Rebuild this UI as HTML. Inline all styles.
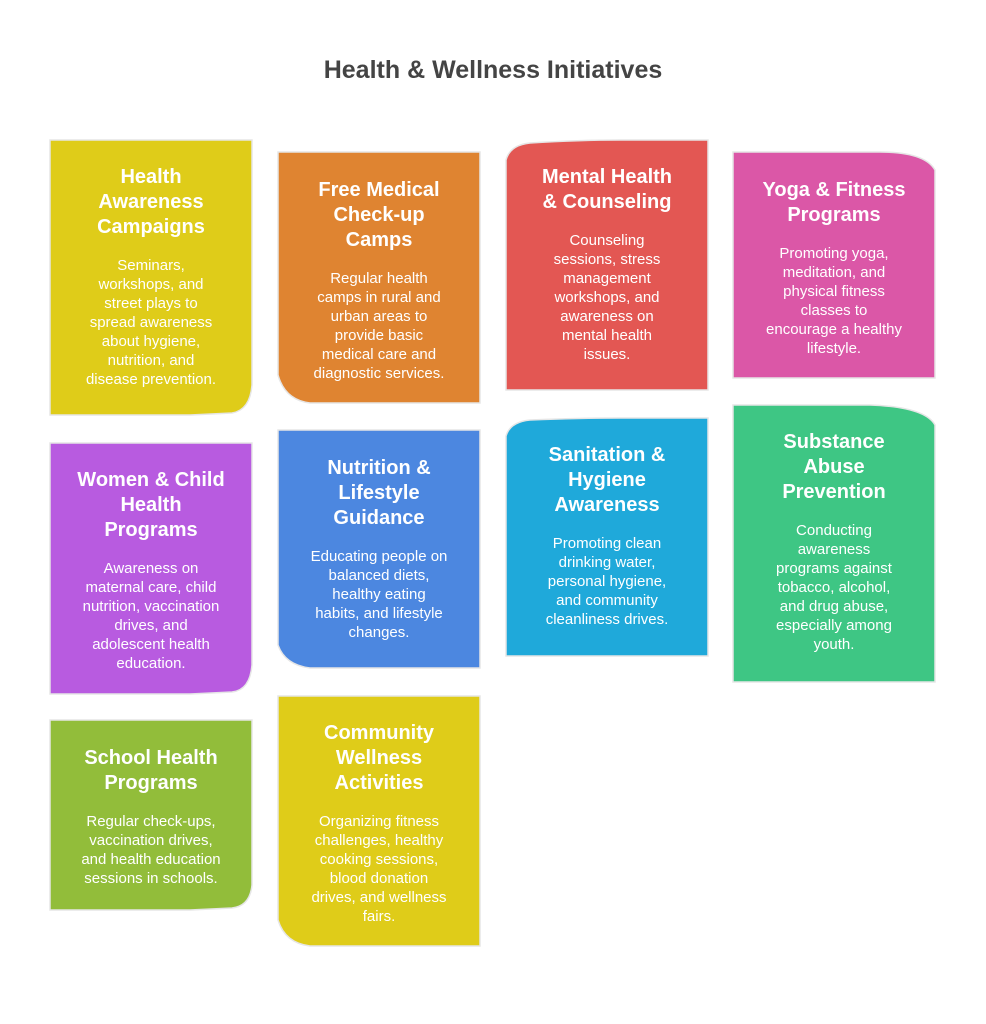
<!DOCTYPE html>
<html><head><meta charset="utf-8"><style>
body{margin:0;background:#fff;width:986px;height:1024px;position:relative;overflow:hidden;font-family:"Liberation Sans",sans-serif}
.title{position:absolute;top:56px;left:0;width:986px;text-align:center;font-size:25px;font-weight:bold;color:#444}
svg{position:absolute;left:0;top:0}
.t{position:absolute;width:202px;text-align:center;color:#fff}
.t h{display:block;font-weight:bold;font-size:20px;line-height:25px}
.t p{margin:16px 0 0;font-size:15px;line-height:19px}
</style></head><body>
<div class="title">Health &amp; Wellness Initiatives</div>
<svg width="986" height="1024">
<g stroke="#e6e6e6" stroke-width="1.5">
<path d="M50 140 H252 V385 Q250 410 232 413 L190 415 H50 Z" fill="#DFCC19"/>
<path d="M278 152 H480 V403 H310 Q285 400 278 375 Z" fill="#DF8431"/>
<path d="M506 160 Q510 145 530 143 Q580 140 620 140 H708 V390 H506 Z" fill="#E35753"/>
<path d="M733 152 H880 Q925 152 935 170 V378 H733 Z" fill="#DB57A7"/>
<path d="M50 443 H252 V665 Q250 690 232 692 L190 694 H50 Z" fill="#B85BE0"/>
<path d="M278 430 H480 V668 H310 Q285 665 278 645 Z" fill="#4C87E0"/>
<path d="M506 436 Q510 422 530 420 Q580 418 620 418 H708 V656 H506 Z" fill="#1FA9DA"/>
<path d="M733 405 H870 Q925 407 935 425 V682 H733 Z" fill="#3EC684"/>
<path d="M50 720 H252 V885 Q250 906 232 908 L190 910 H50 Z" fill="#92BD3A"/>
<path d="M278 696 H480 V946 H310 Q285 943 278 920 Z" fill="#DFCC19"/>
</g>
</svg>
<div class="t" style="left:50px;top:165px"><h>Health<br>Awareness<br>Campaigns</h><p>Seminars,<br>workshops, and<br>street plays to<br>spread awareness<br>about hygiene,<br>nutrition, and<br>disease prevention.</p></div>
<div class="t" style="left:278px;top:178px"><h>Free Medical<br>Check-up<br>Camps</h><p>Regular health<br>camps in rural and<br>urban areas to<br>provide basic<br>medical care and<br>diagnostic services.</p></div>
<div class="t" style="left:506px;top:165px"><h>Mental Health<br>&amp; Counseling</h><p>Counseling<br>sessions, stress<br>management<br>workshops, and<br>awareness on<br>mental health<br>issues.</p></div>
<div class="t" style="left:733px;top:178px"><h>Yoga &amp; Fitness<br>Programs</h><p>Promoting yoga,<br>meditation, and<br>physical fitness<br>classes to<br>encourage a healthy<br>lifestyle.</p></div>
<div class="t" style="left:50px;top:468px"><h>Women &amp; Child<br>Health<br>Programs</h><p>Awareness on<br>maternal care, child<br>nutrition, vaccination<br>drives, and<br>adolescent health<br>education.</p></div>
<div class="t" style="left:278px;top:456px"><h>Nutrition &amp;<br>Lifestyle<br>Guidance</h><p>Educating people on<br>balanced diets,<br>healthy eating<br>habits, and lifestyle<br>changes.</p></div>
<div class="t" style="left:506px;top:443px"><h>Sanitation &amp;<br>Hygiene<br>Awareness</h><p>Promoting clean<br>drinking water,<br>personal hygiene,<br>and community<br>cleanliness drives.</p></div>
<div class="t" style="left:733px;top:430px"><h>Substance<br>Abuse<br>Prevention</h><p>Conducting<br>awareness<br>programs against<br>tobacco, alcohol,<br>and drug abuse,<br>especially among<br>youth.</p></div>
<div class="t" style="left:50px;top:746px"><h>School Health<br>Programs</h><p>Regular check-ups,<br>vaccination drives,<br>and health education<br>sessions in schools.</p></div>
<div class="t" style="left:278px;top:721px"><h>Community<br>Wellness<br>Activities</h><p>Organizing fitness<br>challenges, healthy<br>cooking sessions,<br>blood donation<br>drives, and wellness<br>fairs.</p></div>
</body></html>
